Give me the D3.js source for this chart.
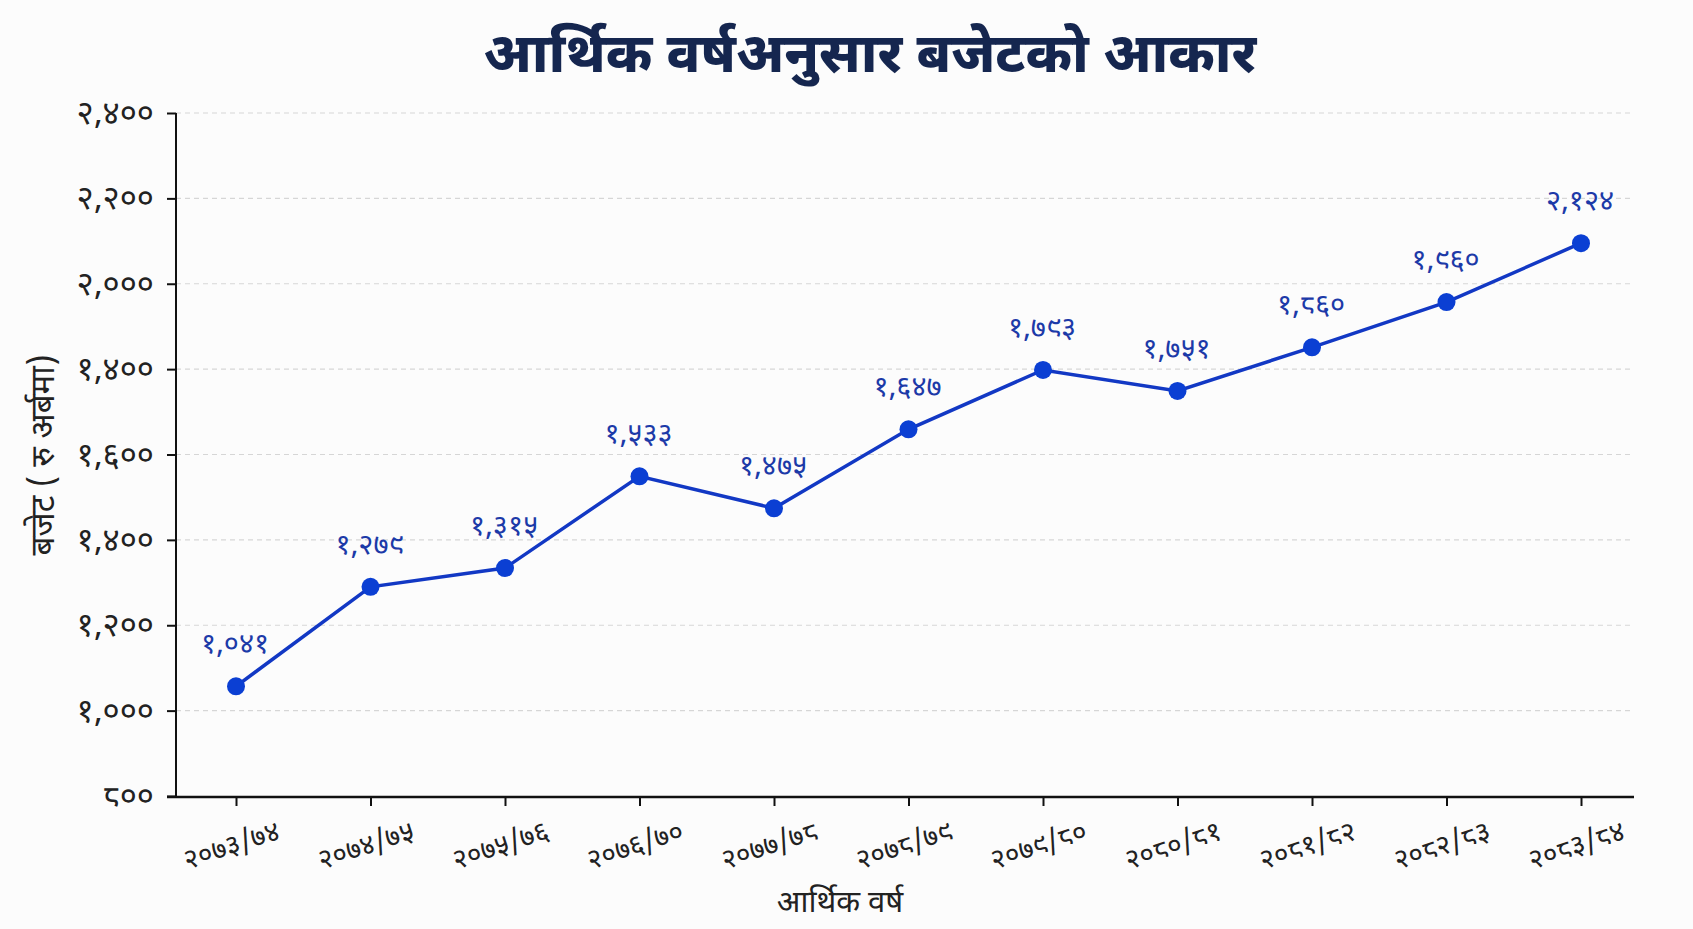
<!DOCTYPE html>
<html lang="ne">
<head>
    <meta charset="UTF-8">
    <title>आर्थिक वर्षअनुसार बजेटको आकार</title>
    <style>
        body {
            margin: 0;
            background: #fcfcfc;
        }
        text {
            font-family: "Noto Sans Devanagari", "Noto Sans", "Lohit Devanagari", sans-serif;
        }
    </style>
</head>

<body>
    <div id="chart"></div>

    <script src="https://d3js.org/d3.v7.min.js"></script>
    <script>
        // fiscal years (x categories)
        const years = ['२०७३/७४', '२०७४/७५', '२०७५/७६', '२०७६/७०', '२०७७/७८', '२०७८/७९',
            '२०७९/८०', '२०८०/८१', '२०८१/८२', '२०८२/८३', '२०८३/८४']
        // budget in Rs. billion, as plotted
        const budget = [1057, 1290, 1334, 1549, 1474, 1659, 1798, 1749, 1851, 1957, 2095]
        // labels printed above each point
        const valueLabels = ['१,०४१', '१,२७९', '१,३१५', '१,५३३', '१,४७५', '१,६४७',
            '१,७९३', '१,७५१', '१,८६०', '१,९६०', '२,१२४']
        // y axis ticks and their printed labels
        const yTicks = [800, 1000, 1200, 1400, 1600, 1800, 2000, 2200, 2400]
        const yTickLabels = ['८००', '१,०००', '१,२००', '१,४००', '१,६००', '१,४००', '२,०००', '२,२००', '२,४००']

        const width = 1693
        const height = 929
        const plot = { left: 176, right: 1634, top: 113, bottom: 797 }

        const svg = d3.select('#chart')
            .append('svg')
            .attr('width', width)
            .attr('height', height)

        const x = d3.scalePoint()
            .domain(years)
            .range([236, 1581])

        const y = d3.scaleLinear()
            .domain([800, 2400])
            .range([796, 113])

        // title
        svg.append('text')
            .attr('x', 870)
            .attr('y', 72)
            .attr('text-anchor', 'middle')
            .attr('font-size', 55)
            .attr('font-weight', 800)
            .attr('fill', '#15264f')
            .text('आर्थिक वर्षअनुसार बजेटको आकार')

        // gridlines
        svg.append('g')
            .selectAll('line')
            .data(yTicks.slice(1))
            .enter()
            .append('line')
            .attr('x1', plot.left)
            .attr('x2', plot.right)
            .attr('y1', d => y(d))
            .attr('y2', d => y(d))
            .attr('stroke', '#d6d6d6')
            .attr('stroke-width', 1.2)
            .attr('stroke-dasharray', '5,4')

        // y axis
        const yAxis = svg.append('g')
            .attr('transform', `translate(${plot.left},0)`)
            .call(d3.axisLeft(y)
                .tickValues(yTicks)
                .tickSize(9)
                .tickPadding(13)
                .tickFormat((d, i) => yTickLabels[i]))
        yAxis.select('.domain').remove()
        yAxis.selectAll('.tick line').attr('stroke', '#111').attr('stroke-width', 2)
        yAxis.selectAll('.tick text')
            .attr('font-size', 33)
            .attr('fill', '#222')
        yAxis.append('line')
            .attr('x1', 0).attr('x2', 0)
            .attr('y1', plot.top).attr('y2', plot.bottom)
            .attr('stroke', '#111')
            .attr('stroke-width', 2)

        // x axis
        const xAxis = svg.append('g')
            .attr('transform', `translate(0,${plot.bottom})`)
            .call(d3.axisBottom(x).tickSize(9).tickPadding(0))
        xAxis.select('.domain').remove()
        xAxis.selectAll('.tick line').attr('stroke', '#111').attr('stroke-width', 2)
        xAxis.selectAll('.tick text')
            .attr('font-size', 28)
            .attr('fill', '#222')
            .attr('text-anchor', 'middle')
            .attr('transform', 'translate(-5,48) rotate(-18)')
            .attr('y', 0)
            .attr('dy', '0.35em')
        xAxis.append('line')
            .attr('x1', 167).attr('x2', plot.right)
            .attr('y1', 0).attr('y2', 0)
            .attr('stroke', '#111')
            .attr('stroke-width', 2.5)

        // axis titles
        svg.append('text')
            .attr('x', 840)
            .attr('y', 912)
            .attr('text-anchor', 'middle')
            .attr('font-size', 31)
            .attr('fill', '#222')
            .text('आर्थिक वर्ष')

        svg.append('text')
            .attr('transform', `translate(54,${(plot.top + plot.bottom) / 2}) rotate(-90)`)
            .attr('text-anchor', 'middle')
            .attr('font-size', 33)
            .attr('fill', '#222')
            .text('बजेट ( रु अर्बमा)')

        // line
        const line = d3.line()
            .x((d, i) => x(years[i]))
            .y(d => y(d))

        svg.append('path')
            .datum(budget)
            .attr('d', line)
            .attr('fill', 'none')
            .attr('stroke', '#1238c4')
            .attr('stroke-width', 3.5)

        svg.append('g')
            .selectAll('circle')
            .data(budget)
            .enter()
            .append('circle')
            .attr('cx', (d, i) => x(years[i]))
            .attr('cy', d => y(d))
            .attr('r', 9)
            .attr('fill', '#0b3fd3')

        svg.append('g')
            .selectAll('text')
            .data(budget)
            .enter()
            .append('text')
            .attr('x', (d, i) => x(years[i]) - 1)
            .attr('y', d => y(d) - 33)
            .attr('text-anchor', 'middle')
            .attr('font-size', 29)
            .attr('fill', '#1c3aa8')
            .text((d, i) => valueLabels[i])
    </script>
</body>
</html>
